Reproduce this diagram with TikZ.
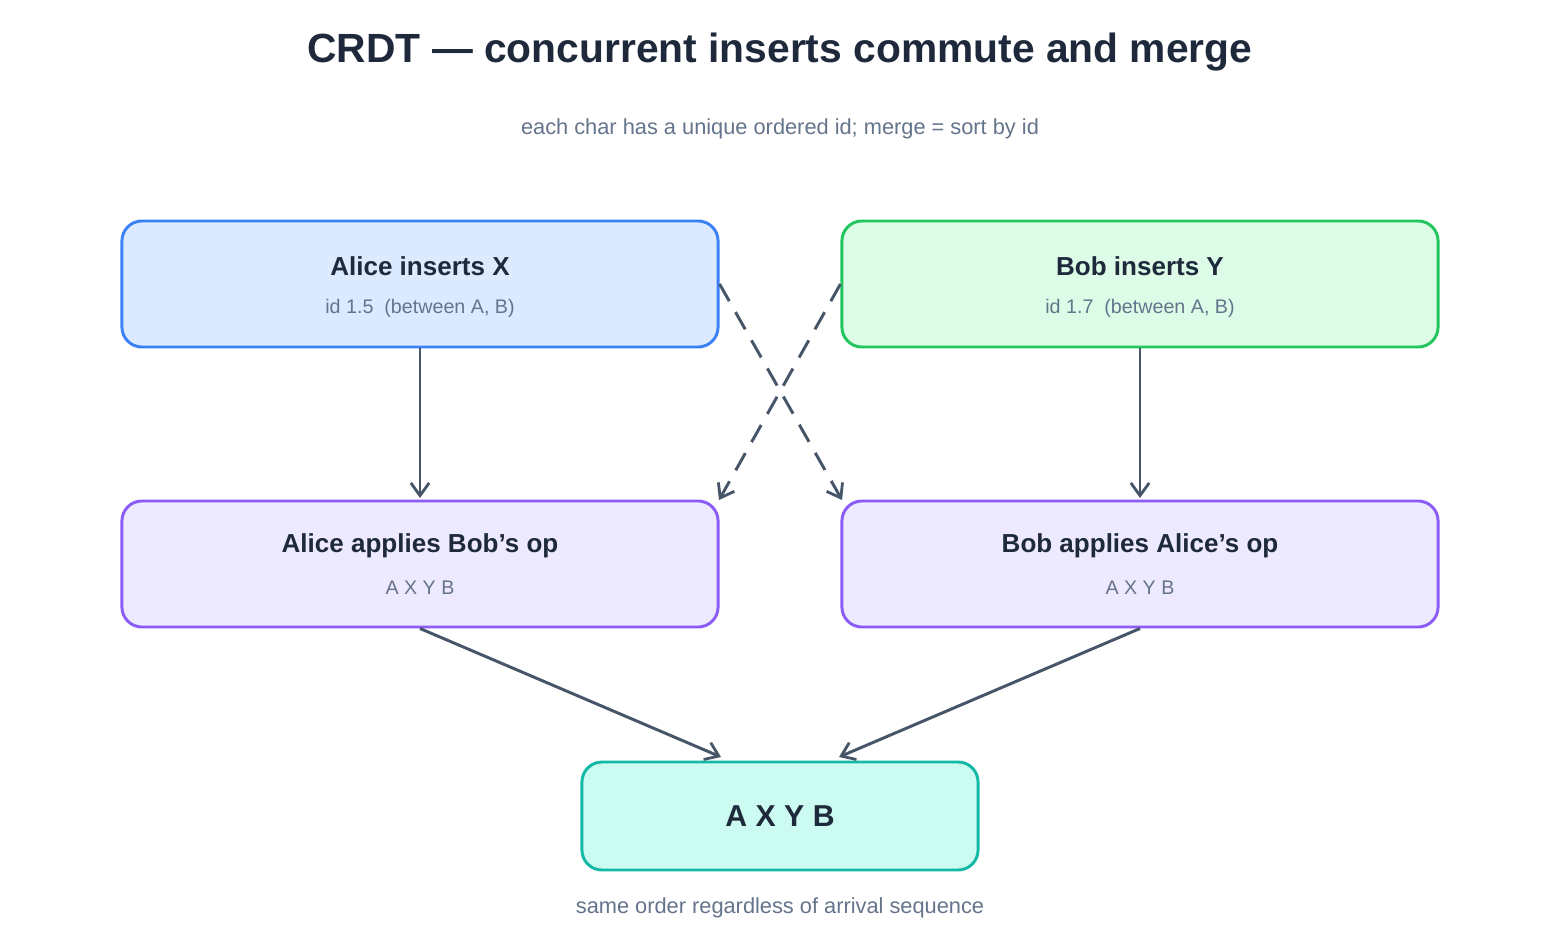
\documentclass[tikz,border=0pt]{standalone}
\usepackage{fontspec}
\setmainfont{Liberation Sans}
\usetikzlibrary{arrows.meta}
\definecolor{ink}{HTML}{1E293B}
\definecolor{mute}{HTML}{64748B}
\definecolor{wire}{HTML}{475569}
\definecolor{bluel}{HTML}{3B82F6}\definecolor{bluef}{HTML}{DBEAFE}
\definecolor{greenl}{HTML}{22C55E}\definecolor{greenf}{HTML}{DCFCE7}
\definecolor{purpl}{HTML}{8B5CF6}\definecolor{purpf}{HTML}{EDE9FE}
\definecolor{teall}{HTML}{14B8A6}\definecolor{tealf}{HTML}{CCFBF1}
\tikzset{
  box/.style={draw, line width=2.1pt, rounded corners=0.5cm, minimum width=14.9cm, minimum height=3.15cm, inner sep=0pt},
  head/.style={text=ink, font=\fontsize{18.5}{22}\selectfont\bfseries},
  sub/.style={text=mute, font=\fontsize{14}{17}\selectfont},
  flow/.style={draw=wire, line width=2.1pt, -{Straight Barb[length=9pt,width=13pt,line width=2pt]}},
  cross/.style={flow, dash pattern=on 14pt off 9pt}
}
\begin{document}
\begin{tikzpicture}[x=0.025cm,y=-0.025cm]
\useasboundingbox (0,0) rectangle (1560,940);
\node (title) at (780,52) [text=ink, font=\fontsize{29}{34}\selectfont\bfseries] {CRDT — concurrent inserts commute and merge};
\node (subtitle) at (780,129) [sub, font=\fontsize{15.5}{18}\selectfont] {each char has a unique ordered id; merge = sort by id};

\node (A) at (420,284) [box, draw=bluel, fill=bluef] {};
\node (B) at (1140,284) [box, draw=greenl, fill=greenf] {};
\node (AB) at (420,564) [box, draw=purpl, fill=purpf] {};
\node (BA) at (1140,564) [box, draw=purpl, fill=purpf] {};
\node (R) at (780,816) [box, draw=teall, fill=tealf, minimum width=9.9cm, minimum height=2.7cm] {};

\node (At) at (420,266) [head] {Alice inserts X};
\node (As) at (420,308) [sub] {id 1.5\ \ (between A, B)};
\node (Bt) at (1140,266) [head] {Bob inserts Y};
\node (Bs) at (1140,308) [sub] {id 1.7\ \ (between A, B)};
\node (ABt) at (420,546) [head] {Alice applies Bob's op};
\node (ABs) at (420,588) [sub] {A X Y B};
\node (BAt) at (1140,546) [head] {Bob applies Alice's op};
\node (BAs) at (1140,588) [sub] {A X Y B};
\node (Rt) at (780,816) [text=ink, font=\fontsize{21.5}{26}\selectfont\bfseries] {A X Y B};
\node (foot) at (780,908) [sub, font=\fontsize{15.5}{18}\selectfont] {same order regardless of arrival sequence};

\coordinate (ABin) at (420,498);
\coordinate (BAin) at (1140,498);
\coordinate (ABx) at (719,500);
\coordinate (BAx) at (842,500);
\coordinate (RL) at (721,757);
\coordinate (RR) at (839,757);

\draw [flow] (A.south) -- (ABin);
\draw [flow] (B.south) -- (BAin);
\draw [cross] (A.east) -- (BAx);
\draw [cross] (B.west) -- (ABx);
\draw [flow] (AB.south) -- (RL);
\draw [flow] (BA.south) -- (RR);
\end{tikzpicture}
\end{document}
